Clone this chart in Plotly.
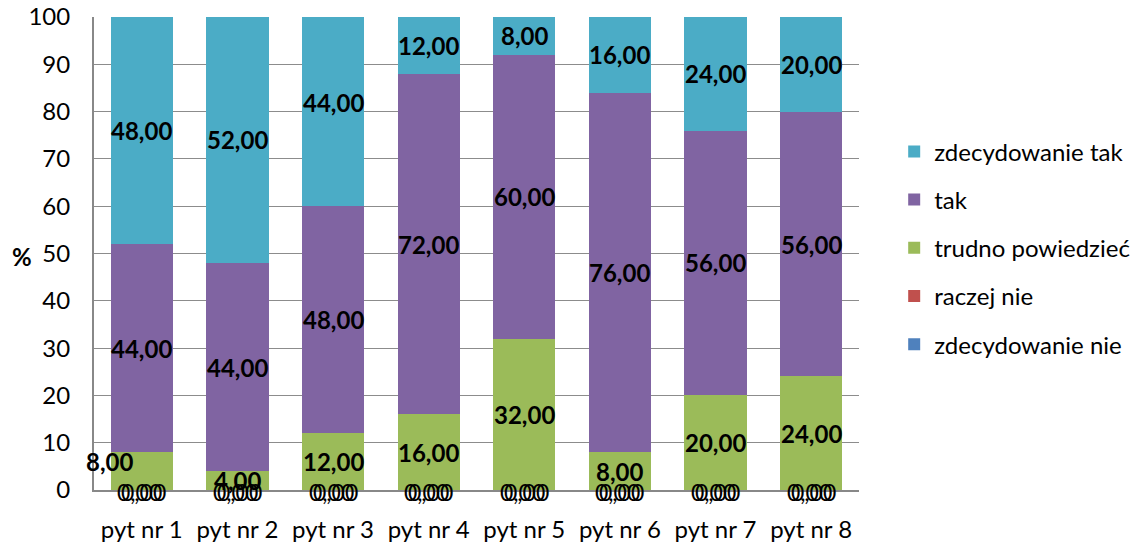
import plotly.graph_objects as go

categories = ["pyt nr 1", "pyt nr 2", "pyt nr 3", "pyt nr 4", "pyt nr 5", "pyt nr 6", "pyt nr 7", "pyt nr 8"]
zdecydowanie_nie = [0, 0, 0, 0, 0, 0, 0, 0]
raczej_nie = [0, 0, 0, 0, 0, 0, 0, 0]
trudno_powiedziec = [8, 4, 12, 16, 32, 8, 20, 24]
tak = [44, 44, 48, 72, 60, 76, 56, 56]
zdecydowanie_tak = [48, 52, 44, 12, 8, 16, 24, 20]
y_ticks = [0, 10, 20, 30, 40, 50, 60, 70, 80, 90, 100]

series = [
    ("zdecydowanie nie", zdecydowanie_nie, "#4F81BD"),
    ("raczej nie", raczej_nie, "#C0504D"),
    ("trudno powiedzieć", trudno_powiedziec, "#9BBB59"),
    ("tak", tak, "#8064A2"),
    ("zdecydowanie tak", zdecydowanie_tak, "#4BACC6"),
]

FONT = "Lato"
FS = 24
fig = go.Figure()
n = len(series)
for si, (name, vals, color) in enumerate(series):
    fig.add_trace(go.Bar(
        x=categories, y=vals, name=name, legendgroup=name,
        legendrank=n - si,
        marker=dict(color=color, line=dict(width=0)),
        hoverinfo="skip",
    ))

def fmt(v):
    return f"{v:.2f}".replace(".", ",")

annotations = []
base = [0] * len(categories)
for si, (name, vals, color) in enumerate(series):
    for i, v in enumerate(vals):
        if v == 0:
            xs = -2 if si == 0 else 2
            annotations.append(dict(
                x=categories[i], y=0, text=fmt(v), showarrow=False,
                xshift=xs, yshift=-2,
                font=dict(family=FONT, size=23, color="black"),
            ))
        else:
            center = base[i] + v / 2
            xs, ys = 0, 0
            if name == "trudno powiedzieć" and i == 0:
                xs, ys = -32, 10
            annotations.append(dict(
                x=categories[i], y=center, text="<b>" + fmt(v) + "</b>", showarrow=False,
                xshift=xs, yshift=ys,
                font=dict(family=FONT, size=FS, color="black"),
            ))
        base[i] += v

annotations.append(dict(
    x=-0.094, y=49.3, xref="paper", yref="y", text="<b>%</b>", showarrow=False,
    xanchor="center",
    font=dict(family=FONT, size=FS, color="black"),
))

fig.update_layout(
    barmode="stack",
    bargap=0.35,
    width=1132, height=546,
    margin=dict(l=94, r=273, t=17, b=56, autoexpand=False),
    paper_bgcolor="white", plot_bgcolor="white",
    font=dict(family=FONT, size=FS, color="black"),
    showlegend=True,
    legend=dict(
        x=1.046, xanchor="left", y=0.512, yanchor="middle",
        traceorder="grouped", tracegroupgap=14,
        font=dict(family=FONT, size=FS, color="black"),
        bgcolor="rgba(0,0,0,0)",
    ),
    xaxis=dict(
        automargin=False, range=[-0.5, len(categories) - 0.5],
        showgrid=False, showline=True, linecolor="#888888", linewidth=2,
        ticks="", ticklabelstandoff=17,
        tickfont=dict(family=FONT, size=FS, color="black"),
    ),
    yaxis=dict(
        automargin=False, ticklabeloverflow="allow",
        range=[0, 100], tickvals=y_ticks, showgrid=True, gridcolor="#8c8c8c", gridwidth=1,
        showline=True, linecolor="#888888", linewidth=2, zeroline=False,
        ticks="", ticklabelstandoff=17,
        tickfont=dict(family=FONT, size=FS, color="black"),
    ),
    annotations=annotations,
)

# remove the browser's default body margin so the figure fills the window exactly
fig.write_html("out.html", config={"displayModeBar": False},
               post_script="document.body.style.margin='0px';")
